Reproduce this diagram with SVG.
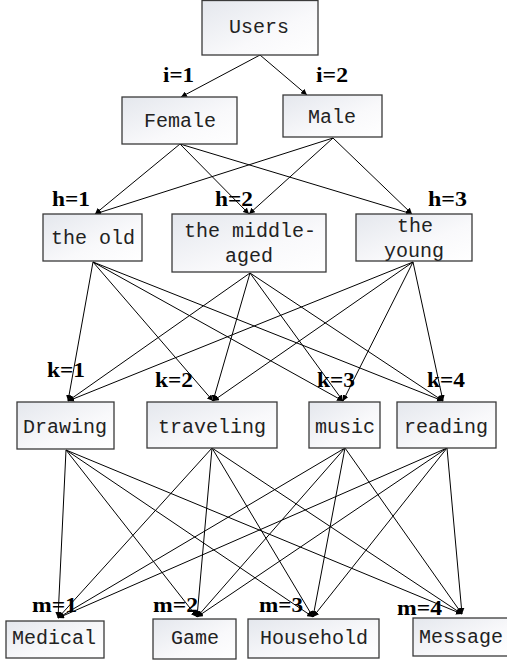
<svg xmlns="http://www.w3.org/2000/svg" width="507" height="661" viewBox="0 0 507 661">
<style>
.box{fill:url(#g);stroke:#3a3a3a;stroke-width:1.3}
.t{font-family:"Liberation Mono",monospace;font-size:20px;fill:#222;text-anchor:middle}
.l{font-family:"Liberation Serif",serif;font-weight:bold;font-size:20px;fill:#000}
.e line{stroke:#000;stroke-width:1;marker-end:url(#a)}
</style>
<defs>
<linearGradient id="g" x1="0" y1="0" x2="1" y2="1">
<stop offset="0" stop-color="#e4e7ed"/>
<stop offset="0.6" stop-color="#f9f9fb"/>
<stop offset="1" stop-color="#ffffff"/>
</linearGradient>
<marker id="a" viewBox="0 0 8 8" refX="8" refY="4" markerWidth="6" markerHeight="6" orient="auto" markerUnits="userSpaceOnUse">
<path d="M0,0 L8,4 L0,8 z" fill="#000"/>
</marker>
</defs>
<rect width="507" height="661" fill="#fff"/>
<g class="e" id="connectors">
<line x1="260" y1="55" x2="181" y2="97"/>
<line x1="260" y1="55" x2="307" y2="95"/>
<line x1="180" y1="144" x2="95" y2="214"/>
<line x1="180" y1="144" x2="249" y2="214"/>
<line x1="180" y1="144" x2="412" y2="214"/>
<line x1="333" y1="138" x2="95" y2="214"/>
<line x1="333" y1="138" x2="249" y2="214"/>
<line x1="333" y1="138" x2="412" y2="214"/>
<line x1="93" y1="262" x2="68" y2="401"/>
<line x1="93" y1="262" x2="213" y2="401"/>
<line x1="93" y1="262" x2="343" y2="401"/>
<line x1="93" y1="262" x2="443" y2="401"/>
<line x1="250" y1="273" x2="68" y2="401"/>
<line x1="250" y1="273" x2="213" y2="401"/>
<line x1="250" y1="273" x2="343" y2="401"/>
<line x1="250" y1="273" x2="443" y2="401"/>
<line x1="413" y1="262" x2="68" y2="401"/>
<line x1="413" y1="262" x2="213" y2="401"/>
<line x1="413" y1="262" x2="343" y2="401"/>
<line x1="413" y1="262" x2="443" y2="401"/>
<line x1="66" y1="450" x2="58" y2="618"/>
<line x1="66" y1="450" x2="197" y2="617"/>
<line x1="66" y1="450" x2="313" y2="617"/>
<line x1="66" y1="450" x2="462" y2="614"/>
<line x1="212" y1="448" x2="58" y2="618"/>
<line x1="212" y1="448" x2="197" y2="617"/>
<line x1="212" y1="448" x2="313" y2="617"/>
<line x1="212" y1="448" x2="462" y2="614"/>
<line x1="345" y1="448" x2="58" y2="618"/>
<line x1="345" y1="448" x2="197" y2="617"/>
<line x1="345" y1="448" x2="313" y2="617"/>
<line x1="345" y1="448" x2="462" y2="614"/>
<line x1="447" y1="448" x2="58" y2="618"/>
<line x1="447" y1="448" x2="197" y2="617"/>
<line x1="447" y1="448" x2="313" y2="617"/>
<line x1="447" y1="448" x2="462" y2="614"/>
</g>
<g id="users"><rect class="box" x="202" y="0.5" width="116" height="54.5"/><text class="t" x="259" y="33">Users</text></g>
<g id="female"><rect class="box" x="122" y="97" width="115" height="47"/><text class="t" x="180" y="127">Female</text></g>
<g id="male"><rect class="box" x="283" y="95" width="99" height="42"/><text class="t" x="332" y="123">Male</text></g>
<g id="old"><rect class="box" x="43" y="214" width="99" height="47"/><text class="t" x="93" y="244">the old</text></g>
<g id="middle"><rect class="box" x="172" y="214" width="154" height="58"/><text class="t" x="250" y="237">the middle-</text><text class="t" x="249" y="262">aged</text></g>
<g id="young"><rect class="box" x="356" y="214" width="116" height="47"/><text class="t" x="415" y="232">the</text><text class="t" x="414" y="257">young</text></g>
<g id="drawing"><rect class="box" x="17" y="402" width="97" height="47"/><text class="t" x="65" y="433">Drawing</text></g>
<g id="traveling"><rect class="box" x="147" y="402" width="130" height="46"/><text class="t" x="212" y="433">traveling</text></g>
<g id="music"><rect class="box" x="309" y="402" width="71" height="46"/><text class="t" x="345" y="433">music</text></g>
<g id="reading"><rect class="box" x="397" y="402" width="99" height="46"/><text class="t" x="446" y="433">reading</text></g>
<g id="medical"><rect class="box" x="6" y="621" width="98" height="37"/><text class="t" x="54" y="644">Medical</text></g>
<g id="game"><rect class="box" x="153" y="619" width="83" height="40"/><text class="t" x="195" y="644">Game</text></g>
<g id="household"><rect class="box" x="248" y="619" width="131" height="39"/><text class="t" x="314" y="644">Household</text></g>
<g id="message"><rect class="box" x="413" y="618" width="100" height="38"/><text class="t" x="461" y="643">Message</text></g>
<g id="labels">
<text class="l" x="163" y="82" textLength="31" lengthAdjust="spacingAndGlyphs">i=1</text>
<text class="l" x="316" y="82" textLength="32" lengthAdjust="spacingAndGlyphs">i=2</text>
<text class="l" x="52" y="206" textLength="38" lengthAdjust="spacingAndGlyphs">h=1</text>
<text class="l" x="215" y="206" textLength="38" lengthAdjust="spacingAndGlyphs">h=2</text>
<text class="l" x="428" y="206" textLength="39" lengthAdjust="spacingAndGlyphs">h=3</text>
<text class="l" x="47" y="377" textLength="38" lengthAdjust="spacingAndGlyphs">k=1</text>
<text class="l" x="155" y="387" textLength="38" lengthAdjust="spacingAndGlyphs">k=2</text>
<text class="l" x="317" y="387" textLength="38" lengthAdjust="spacingAndGlyphs">k=3</text>
<text class="l" x="427" y="387" textLength="38" lengthAdjust="spacingAndGlyphs">k=4</text>
<text class="l" x="32" y="612" textLength="45" lengthAdjust="spacingAndGlyphs">m=1</text>
<text class="l" x="153" y="612" textLength="45" lengthAdjust="spacingAndGlyphs">m=2</text>
<text class="l" x="259" y="612" textLength="44" lengthAdjust="spacingAndGlyphs">m=3</text>
<text class="l" x="397" y="615" textLength="45" lengthAdjust="spacingAndGlyphs">m=4</text>
</g>
</svg>
